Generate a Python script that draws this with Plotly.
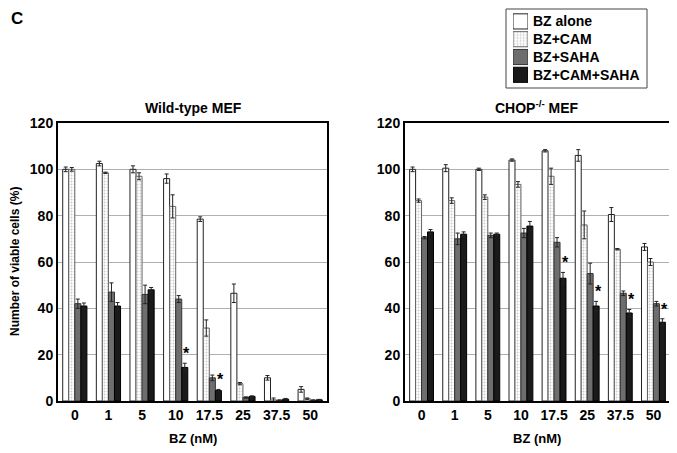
import plotly.graph_objects as go

categories = ["0", "1", "5", "10", "17.5", "25", "37.5", "50"]
series_names = ["BZ alone", "BZ+CAM", "BZ+SAHA", "BZ+CAM+SAHA"]

# Wild-type MEF
wt_bz = [100, 102.5, 100, 96, 78.5, 46.5, 10, 5]
wt_bz_err = [1, 1, 1.5, 2, 1, 4, 1, 1.2]
wt_cam = [100, 98.5, 97, 84, 31.5, 7.5, 0.5, 1]
wt_cam_err = [0.8, 0.3, 1.5, 5, 3.5, 0.5, 0.8, 0.3]
wt_saha = [42, 47, 46, 44, 10, 1.5, 0.3, 0.3]
wt_saha_err = [2, 4, 4, 1.5, 1.2, 0.3, 0.2, 0.2]
wt_both = [41, 41, 48, 14.5, 4.5, 2, 0.8, 0.5]
wt_both_err = [1.3, 1.5, 1, 1.8, 0.5, 0.2, 0.3, 0.2]
wt_sig = [False, False, False, True, True, False, False, False]

# CHOP-/- MEF
ko_bz = [100, 100.5, 100, 104, 108, 106, 80.5, 66.5]
ko_bz_err = [1, 1.5, 0.5, 0.5, 0.5, 2.5, 3, 1.5]
ko_cam = [86.5, 86.5, 88, 93.5, 97, 76, 65.5, 60]
ko_cam_err = [0.7, 1.2, 1, 1.2, 3.5, 6, 0.3, 1.5]
ko_saha = [70.5, 70, 71.5, 72.5, 68.5, 55, 46.5, 42]
ko_saha_err = [0.5, 2.5, 1, 2, 2, 4.5, 1, 1]
ko_both = [73, 72, 72, 75.5, 53, 41, 38, 34]
ko_both_err = [1, 1, 0.5, 2, 2.5, 2, 1.5, 1.5]
ko_sig = [False, False, False, False, True, True, True, True]

FONT = "Liberation Sans, Arial, sans-serif"
xpos = list(range(len(categories)))

# page body has an 8px margin; size figure so it fills the 677x453 window
OFF = 8
W, H = 677 - OFF, 453 - OFF

def fx(px):
    return (px - OFF) / W

def fy(py):
    return 1 - (py - OFF) / H

styles = [
    dict(color="white", line=dict(color="#222", width=1)),
    dict(color="white", line=dict(color="#666", width=1),
         pattern=dict(shape=".", fgcolor="#9a9a9a", bgcolor="white", size=3, solidity=0.3)),
    dict(color="#6e6e6e", line=dict(color="#333", width=1)),
    dict(color="#1a1a1a", line=dict(color="#000", width=1)),
]

fig = go.Figure()

def add_panel(vals, errs, xa, ya):
    for i, (v, e) in enumerate(zip(vals, errs)):
        fig.add_trace(go.Bar(
            x=xpos, y=v, name=series_names[i],
            marker=styles[i],
            error_y=dict(type="data", array=e, color="#222", thickness=1, width=2),
            xaxis=xa, yaxis=ya, showlegend=False,
        ))

add_panel([wt_bz, wt_cam, wt_saha, wt_both],
          [wt_bz_err, wt_cam_err, wt_saha_err, wt_both_err], "x", "y")
add_panel([ko_bz, ko_cam, ko_saha, ko_both],
          [ko_bz_err, ko_cam_err, ko_saha_err, ko_both_err], "x2", "y2")

# legend swatches drawn on a small hidden axis
for i, name in enumerate(series_names):
    fig.add_trace(go.Bar(
        y=[name], x=[1], orientation="h", marker=styles[i], width=0.85,
        offsetgroup="legend", xaxis="x3", yaxis="y3", showlegend=False, hoverinfo="skip",
    ))

annotations = []
for sig, vals, errs, xr, yr in [(wt_sig, wt_both, wt_both_err, "x", "y"),
                                 (ko_sig, ko_both, ko_both_err, "x2", "y2")]:
    for xp, s, v, e in zip(xpos, sig, vals, errs):
        if s:
            annotations.append(dict(x=xp, y=v + e, xref=xr, yref=yr, text="*",
                                    showarrow=False, xshift=11, yshift=-1, yanchor="bottom",
                                    xanchor="center",
                                    font=dict(family=FONT, size=16, color="black", weight="bold")))

def paper_text(text, px, py, size, angle=0, xanchor="center"):
    return dict(text=text, x=fx(px), y=fy(py), xref="paper", yref="paper",
                showarrow=False, xanchor=xanchor, yanchor="middle", textangle=angle,
                font=dict(family=FONT, size=size, color="black", weight="bold"))

annotations += [
    paper_text("C", 17, 18, 17),
    paper_text("Wild-type MEF", 193, 108, 14),
    paper_text("CHOP<sup>-/-</sup> MEF", 537, 107, 14),
    paper_text("BZ (nM)", 193, 438, 13),
    paper_text("BZ (nM)", 537, 438, 13),
    paper_text("Number of viable cells (%)", 15, 262, 12, -90),
]
legend_rows_py = [21, 39, 57, 75]
for name, py in zip(series_names, legend_rows_py):
    annotations.append(paper_text(name, 531, py, 14, xanchor="left"))

xcommon = dict(range=[-0.5, len(categories) - 0.5], tickvals=xpos, ticktext=categories,
               showline=True, linewidth=2, linecolor="black", mirror=True, zeroline=False,
               automargin=False,
               ticks="", showgrid=False, tickfont=dict(family=FONT, size=14, color="black", weight="bold"))
ycommon = dict(range=[0, 120], dtick=20, showline=True, linewidth=2, linecolor="black", mirror=True,
               showgrid=True, gridcolor="#b0b0b0", gridwidth=1, ticks="", zeroline=False,
               automargin=False,
               tickfont=dict(family=FONT, size=14, color="black", weight="bold"))
hidden = dict(visible=False, showgrid=False, zeroline=False, automargin=False, fixedrange=True)

fig.update_layout(
    width=W, height=H,
    margin=dict(l=0, r=0, t=0, b=0, autoexpand=False),
    paper_bgcolor="white", plot_bgcolor="white",
    barmode="group", bargap=0.28, bargroupgap=0,
    xaxis=dict(domain=[fx(58), fx(327)], anchor="y", **xcommon),
    yaxis=dict(domain=[fy(401), fy(123)], anchor="x", **ycommon),
    xaxis2=dict(domain=[fx(405), fx(670)], anchor="y2", **xcommon),
    yaxis2=dict(domain=[fy(401), fy(123)], anchor="x2", **ycommon),
    xaxis3=dict(domain=[fx(513), fx(528)], anchor="y3", range=[0, 1], **hidden),
    yaxis3=dict(domain=[fy(12.5 + 4 * 17.8), fy(12.5)], anchor="x3", type="category",
                autorange="reversed", **hidden),
    shapes=[dict(type="rect", xref="paper", yref="paper", x0=fx(506), x1=fx(647),
                 y0=fy(88), y1=fy(9), line=dict(color="#444", width=1), fillcolor="rgba(0,0,0,0)",
                 layer="below")],
    annotations=annotations,
    showlegend=False,
)

fig.write_html("out.html")
